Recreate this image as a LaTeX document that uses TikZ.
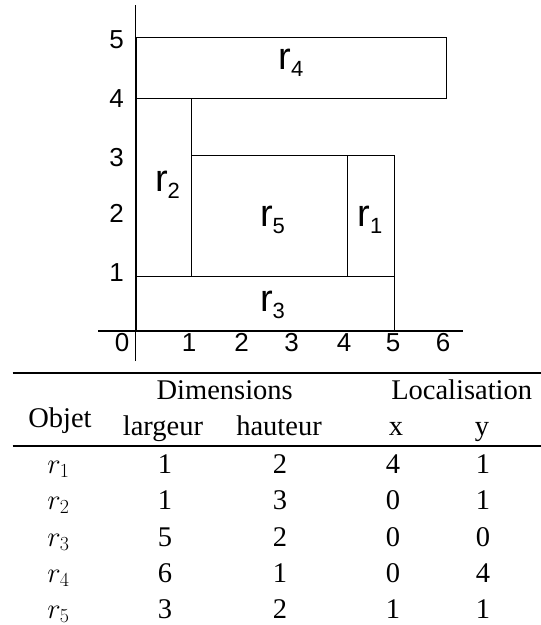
\RequirePackage{fix-cm}
\documentclass[tikz,border=0pt]{standalone}
\usepackage[no-math]{fontspec}
\setmainfont{Liberation Serif}
\newfontfamily\arialfont{Liberation Sans}

\tikzset{
    axisnum/.style={inner sep=0pt, font=\arialfont\fontsize{26}{28}\selectfont},
    rlabel/.style={anchor=base, inner sep=0pt, font=\arialfont},
    cell/.style={anchor=base, inner sep=0pt, font=\fontsize{28.5}{34}\selectfont},
    tablerule/.style={line width=2pt},
    box/.style={draw, line width=0.8pt},
}
\newcommand{\rname}[1]{{\fontsize{38}{40}\selectfont r}\raisebox{-7pt}{\fontsize{22}{24}\selectfont #1}}

\begin{document}
\begin{tikzpicture}[x=1pt, y=-1pt]
        \useasboundingbox (0,0) rectangle (541,625);
        % axes
        \coordinate (ytop) at (135.7,5);
        \coordinate (ybot) at (135.7,361);
        \coordinate (xleft) at (98,331);
        \coordinate (xright) at (463,331);
        \draw [line width=1.2pt] (ybot)--(ytop);
        \draw [line width=1.2pt] (xleft)--(xright);
        % the five rectangles
        \draw [box] (136,37.3) rectangle (446.7,98.7);
        \draw [box] (136,98.7) rectangle (191.7,276);
        \draw [box] (191.7,155.3) rectangle (347.7,276);
        \draw [box] (347.7,155.3) rectangle (394,276);
        \draw [box] (136,276) rectangle (394,331);
        \node [rlabel] (r4) at (291,69){\rname{4}};
        \node [rlabel] (r2) at (167.5,191){\rname{2}};
        \node [rlabel] (r5) at (272.5,226){\rname{5}};
        \node [rlabel] (r1) at (370,226){\rname{1}};
        \node [rlabel] (r3) at (272.5,311){\rname{3}};
        % graduations
        \node [axisnum] (y5) at (116.5,39.5){5};
        \node [axisnum] (y4) at (116.5,99){4};
        \node [axisnum] (y3) at (116.5,158){3};
        \node [axisnum] (y2) at (116.5,213){2};
        \node [axisnum] (y1) at (116.5,273){1};
        \node [axisnum] (x0) at (122,342.5){0};
        \node [axisnum] (x1) at (189,342.5){1};
        \node [axisnum] (x2) at (241.7,342.5){2};
        \node [axisnum] (x3) at (291.7,342.5){3};
        \node [axisnum] (x4) at (344,342.5){4};
        \node [axisnum] (x5) at (393,342.5){5};
        \node [axisnum] (x6) at (443,342.5){6};
        % table
        \draw [tablerule] (12.7,373.3)--(541,373.3);
        \draw [tablerule] (12.7,445.7)--(541,445.7);
        \node [cell] (objet) at (60,427){Objet};
        \node [cell] (dim) at (224.7,399){Dimensions};
        \node [cell] (loc) at (461.7,399){Localisation};
        \node [cell] (larg) at (163,435){largeur};
        \node [cell] (haut) at (279,435){hauteur};
        \node [cell] (hx) at (396,435){x};
        \node [cell] (hy) at (482,435){y};
        \node [cell] (o1) at (58.5,473){$r_1$};
        \node [cell] (o2) at (58.5,509.5){$r_2$};
        \node [cell] (o3) at (58.5,546){$r_3$};
        \node [cell] (o4) at (58.5,582.5){$r_4$};
        \node [cell] (o5) at (58.5,618.5){$r_5$};
        \node [cell] (l1) at (165,473){1};
        \node [cell] (l2) at (165,509.5){1};
        \node [cell] (l3) at (165,546){5};
        \node [cell] (l4) at (165,582.5){6};
        \node [cell] (l5) at (165,618.5){3};
        \node [cell] (h1) at (280,473){2};
        \node [cell] (h2) at (280,509.5){3};
        \node [cell] (h3) at (280,546){2};
        \node [cell] (h4) at (280,582.5){1};
        \node [cell] (h5) at (280,618.5){2};
        \node [cell] (c1) at (393,473){4};
        \node [cell] (c2) at (393,509.5){0};
        \node [cell] (c3) at (393,546){0};
        \node [cell] (c4) at (393,582.5){0};
        \node [cell] (c5) at (393,618.5){1};
        \node [cell] (d1) at (483,473){1};
        \node [cell] (d2) at (483,509.5){1};
        \node [cell] (d3) at (483,546){0};
        \node [cell] (d4) at (483,582.5){4};
        \node [cell] (d5) at (483,618.5){1};
    \end{tikzpicture}
\end{document}
